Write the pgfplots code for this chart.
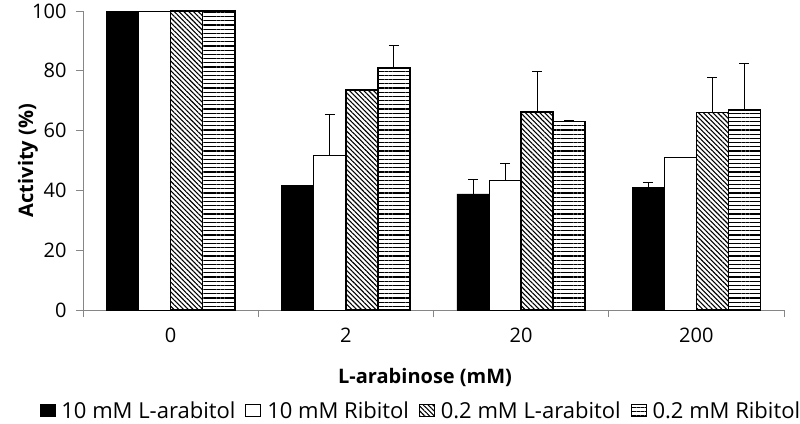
\documentclass[border=0pt]{standalone}
\usepackage{fontspec}
\setmainfont{Open Sans}
\usepackage{pgfplots}
\usepackage{pgfplotstable}
\pgfplotsset{compat=1.18}
\usetikzlibrary{patterns.meta}
\newcommand\cf{\fontsize{20bp}{24bp}\selectfont}
\newcommand\lf{\fontsize{22bp}{26bp}\selectfont}
\definecolor{axgray}{RGB}{134,134,134}

\pgfplotstableread{
x v1 e1 v2 e2 v3 e3 v4 e4
0 100 0 100 0 100 0 100 0
1 41.8 0 51.8 13.7 73.5 0 81.0 7.6
2 38.8 5.0 43.3 5.8 66.2 13.4 63.0 0.4
3 41.1 1.6 51.1 0 66.0 11.7 66.9 15.4
}\data

\begin{document}
\begin{tikzpicture}
\path[use as bounding box] (0,0) rectangle (800bp,-424bp);
\begin{axis}[
  at={(83bp,-310bp)}, anchor=south west,
  scale only axis, width=701bp, height=299bp,
  xmin=-0.5, xmax=3.5, ymin=0, ymax=100,
  clip=false,
  axis x line*=bottom, axis y line*=left,
  axis line style={draw=axgray, line width=0.9bp, -},
  every tick/.style={draw=axgray, line width=0.9bp},
  tick align=outside,
  major tick length=7bp, minor tick length=7bp,
  ytick={0,20,40,60,80,100},
  xtick={0,1,2,3}, xticklabels={0,2,20,200},
  major x tick style={draw=none},
  minor xtick={-0.5,0.5,1.5,2.5,3.5},
  /pgf/number format/assume math mode=true,
  tick label style={font=\cf},
  yticklabel style={xshift=-6bp},
  xticklabel style={yshift=-7bp},
  xlabel={L-arabinose (mM)},
  ylabel={Activity (\%)},
  label style={font=\cf\bfseries},
  xlabel style={at={(axis description cs:0.488,-0.227)}, anchor=center},
  ylabel style={at={(axis description cs:-0.0785,0.5)}, anchor=center},
  ybar, bar width=0.183,
  legend columns=4,
  legend style={draw=none, fill=none, font=\lf,
    at={(axis description cs:0.482,-0.336)}, anchor=center,
    /tikz/every even column/.append style={column sep=8bp},
    /tikz/every odd column/.append style={column sep=4bp}},
  legend image code/.code={\draw[#1, line width=0.8bp] (0bp,-6bp) rectangle (15bp,6bp);},
  error bars/y dir=plus, error bars/y explicit,
  error bars/error bar style={line width=1bp, black},
  error bars/error mark options={rotate=90, mark size=5bp, line width=1bp, black},
]
\addplot[bar shift=-0.2745, fill=black, draw=black, line width=0.8bp]
  table[x=x, y=v1, y error=e1] {\data};
\addlegendentry{10 mM L-arabitol}
\addplot[bar shift=-0.0915, fill=white, draw=black, line width=0.8bp]
  table[x=x, y=v2, y error=e2] {\data};
\addlegendentry{10 mM Ribitol}
\addplot[bar shift=0.0915, draw=black, line width=1.6bp,
  pattern={Lines[angle=-45, distance=3.4bp, line width=1.1bp]}, pattern color=black]
  table[x=x, y=v3, y error=e3] {\data};
\addlegendentry{0.2 mM L-arabitol}
\addplot[bar shift=0.2745, draw=black, line width=1.6bp,
  pattern={Lines[angle=0, distance=4.2bp, line width=1.1bp]}, pattern color=black]
  table[x=x, y=v4, y error=e4] {\data};
\addlegendentry{0.2 mM Ribitol}
\end{axis}
\end{tikzpicture}
\end{document}
